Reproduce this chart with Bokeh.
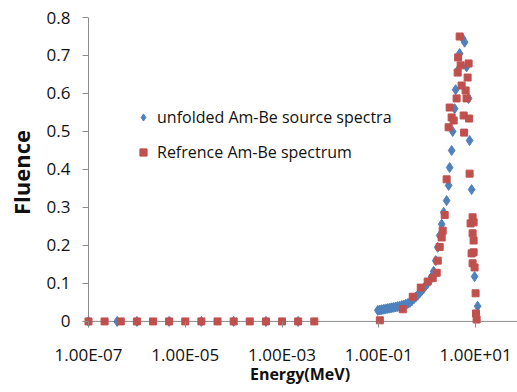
from bokeh.plotting import figure
from bokeh.models import Range1d, FixedTicker, Legend, LegendItem, Span
from bokeh.embed import file_html
from bokeh.resources import INLINE

# ---------------- data ----------------
# unfolded Am-Be source spectra (Energy in MeV, Fluence)
blue_energy = [1.0e-7, 3.9e-7, 1.0e-6, 4.64e-6, 2.15e-5, 1.0e-4, 4.64e-4, 2.15e-3,
               0.0953, 0.105, 0.115, 0.127, 0.139, 0.153, 0.169, 0.185, 0.204, 0.224,
               0.246, 0.271, 0.298, 0.328, 0.360, 0.396, 0.436, 0.479, 0.527, 0.579,
               0.637, 0.700, 0.770, 0.847, 0.931, 1.02, 1.13, 1.24, 1.36, 1.50,
               1.65, 1.81, 1.99, 2.19, 2.52, 2.77, 2.91, 3.20, 3.36, 3.69,
               3.87, 4.26, 4.68, 5.40, 5.93, 6.51, 7.17, 7.52, 8.27, 9.53, 11.0]
blue_fluence = [0, 0, 0, 0, 0, 0, 0, 0,
                0.029, 0.030, 0.031, 0.032, 0.033, 0.034, 0.035, 0.036, 0.037, 0.038,
                0.039, 0.040, 0.042, 0.043, 0.045, 0.047, 0.050, 0.054, 0.059, 0.064,
                0.069, 0.075, 0.081, 0.087, 0.094, 0.100, 0.107, 0.118, 0.132, 0.160,
                0.195, 0.226, 0.256, 0.287, 0.318, 0.358, 0.405, 0.450, 0.500, 0.560,
                0.610, 0.660, 0.705, 0.745, 0.735, 0.670, 0.587, 0.476, 0.347, 0.118, 0.040]

# Refrence Am-Be spectrum (Energy in MeV, Fluence)
red_energy = [1.0e-7, 2.15e-7, 4.64e-7, 1.0e-6, 2.15e-6, 4.64e-6, 1.0e-5, 2.15e-5,
              4.64e-5, 1.0e-4, 2.15e-4, 4.64e-4, 1.0e-3, 2.15e-3, 4.64e-3,
              0.105, 0.313, 0.502, 0.735, 1.02, 1.30, 1.57, 1.65, 1.81, 1.99,
              2.09, 2.30, 2.52, 2.77, 2.91, 3.20, 3.52, 4.05, 4.26, 4.36,
              4.68, 4.91, 5.14, 5.66, 5.80, 6.22, 6.51, 6.84, 7.17, 7.34,
              7.52, 7.88, 8.27, 8.67, 8.67, 8.67, 9.10, 9.10, 9.10, 9.53,
              10.0, 10.2, 10.5]
red_fluence = [0, 0, 0, 0, 0, 0, 0, 0,
               0, 0, 0, 0, 0, 0, 0,
               0.003, 0.032, 0.065, 0.089, 0.105, 0.114, 0.128, 0.160, 0.196, 0.221,
               0.239, 0.280, 0.374, 0.511, 0.563, 0.537, 0.529, 0.587, 0.655, 0.695,
               0.750, 0.674, 0.621, 0.542, 0.497, 0.608, 0.587, 0.642, 0.679, 0.534,
               0.389, 0.258, 0.179, 0.232, 0.274, 0.153, 0.213, 0.182, 0.261, 0.142,
               0.074, 0.021, 0.005]

x_tick_values = [1e-7, 1e-5, 1e-3, 1e-1, 1e1]
x_tick_labels = ["1.00E-07", "1.00E-05", "1.00E-03", "1.00E-01", "1.00E+01"]
y_tick_values = [0, 0.1, 0.2, 0.3, 0.4, 0.5, 0.6, 0.7, 0.8]
y_tick_labels = ["0", "0.1", "0.2", "0.3", "0.4", "0.5", "0.6", "0.7", "0.8"]

series_labels = ["unfolded Am-Be source spectra", "Refrence Am-Be spectrum"]
BLUE = "#4F81BD"
RED = "#C0504D"
FONT = "Open Sans"
AXIS_GRAY = "#8C8C8C"

# ---------------- figure ----------------
p = figure(width=517, height=392, x_axis_type="log",
           x_range=Range1d(10 ** -7.124, 10 ** 1.866),
           y_range=Range1d(-0.016, 0.8),
           output_backend="svg", toolbar_location=None,
           min_border_left=82, min_border_right=0,
           min_border_top=17, min_border_bottom=65)
p.outline_line_color = None
p.grid.visible = False
p.background_fill_color = "white"
p.border_fill_color = "white"

# axis lines through the origin (drawn beneath the markers)
p.add_layout(Span(location=0, dimension="width", line_color=AXIS_GRAY,
                  line_width=1, level="underlay"))
p.add_layout(Span(location=x_tick_values[0], dimension="height", line_color=AXIS_GRAY,
                  line_width=1, level="underlay"))

rb = p.scatter(blue_energy, blue_fluence, marker="diamond", size=10,
               fill_color=BLUE, line_color=BLUE)
rr = p.scatter(red_energy, red_fluence, marker="square", size=7,
               fill_color=RED, line_color=RED)

xa = p.xaxis[0]
xa.ticker = FixedTicker(ticks=x_tick_values, minor_ticks=[])
xa.major_label_overrides = dict(zip(x_tick_values, x_tick_labels))
xa.axis_label = "Energy(MeV)"

ya = p.yaxis[0]
ya.ticker = FixedTicker(ticks=y_tick_values, minor_ticks=[])
ya.major_label_overrides = dict(zip(y_tick_values, y_tick_labels))
ya.axis_label = "Fluence"

for ax in (xa, ya):
    ax.axis_line_color = None
    ax.major_tick_line_color = AXIS_GRAY
    ax.major_tick_out = 0
    ax.major_tick_in = 6
    ax.minor_tick_line_color = None
    ax.major_label_text_font = FONT
    ax.major_label_text_font_size = "17px"
    ax.major_label_text_color = "#111111"
    ax.axis_label_text_font = FONT
    ax.axis_label_text_font_style = "bold"
    ax.axis_label_text_color = "#111111"

xa.major_label_standoff = 15
xa.axis_label_text_font_size = "16px"
xa.axis_label_standoff = -6
ya.major_label_standoff = 12
ya.axis_label_text_font_size = "22px"
ya.axis_label_standoff = 8

legend = Legend(items=[LegendItem(label=series_labels[0], renderers=[rb]),
                       LegendItem(label=series_labels[1], renderers=[rr])],
                location=(52, 163), padding=0, margin=0, spacing=11,
                glyph_width=18, glyph_height=24, label_height=24,
                label_standoff=5,
                label_text_font=FONT, label_text_font_size="16px",
                label_text_color="#111111",
                border_line_color=None, background_fill_alpha=0)
p.add_layout(legend)

open("out.html", "w").write(file_html(p, INLINE))
